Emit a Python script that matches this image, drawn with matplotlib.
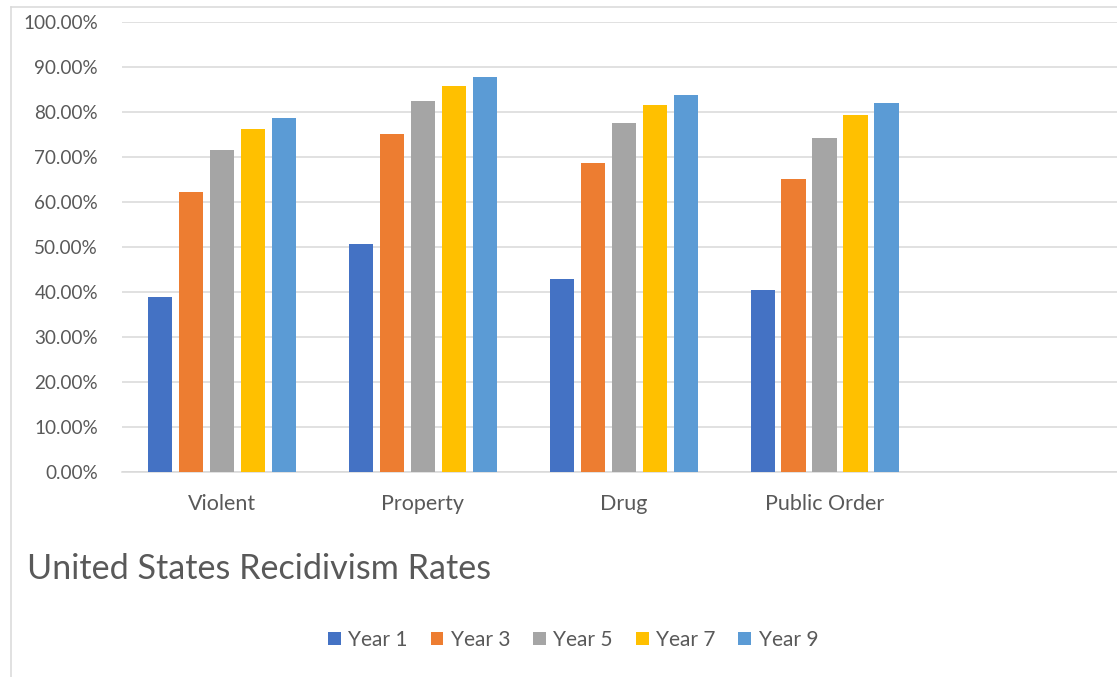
import matplotlib
matplotlib.use("Agg")
import matplotlib.pyplot as plt
import numpy as np
from matplotlib.lines import Line2D
from matplotlib.patches import Patch

categories = ["Violent", "Property", "Drug", "Public Order"]
series_names = ["Year 1", "Year 3", "Year 5", "Year 7", "Year 9"]
year1 = [0.389, 0.507, 0.428, 0.404]
year3 = [0.621, 0.750, 0.686, 0.650]
year5 = [0.715, 0.824, 0.775, 0.742]
year7 = [0.761, 0.858, 0.815, 0.793]
year9 = [0.787, 0.878, 0.838, 0.819]
y_ticks = [0.0, 0.1, 0.2, 0.3, 0.4, 0.5, 0.6, 0.7, 0.8, 0.9, 1.0]
title = "United States Recidivism Rates"

colors = ["#4472C4", "#ED7D31", "#A5A5A5", "#FFC000", "#5B9BD5"]
text_color = "#595959"
grid_color = "#D9D9D9"

plt.rcParams['font.family'] = ['Lato', 'DejaVu Sans']

W, H = 1117, 677
fig = plt.figure(figsize=(W / 100, H / 100), dpi=100)

left_px, right_px, top_px, bottom_px = 121.7, 1126.0, 22.0, 471.7
ax = fig.add_axes([left_px / W, 1 - bottom_px / H, (right_px - left_px) / W, (bottom_px - top_px) / H])

series = [year1, year3, year5, year7, year9]
x = np.arange(len(categories))
pitch = 0.1542
width = 0.122
for i, (vals, c) in enumerate(zip(series, colors)):
    ax.bar(x + (i - 2) * pitch, vals, width=width, color=c, zorder=3, label=series_names[i])

ax.set_xlim(-0.5, 4.5)
ax.set_ylim(0, 1.0)
ax.set_yticks(y_ticks)
ax.set_yticklabels([f"{v*100:.2f}%" for v in y_ticks])
ax.set_xticks(x)
ax.set_xticklabels(categories)
ax.yaxis.grid(True, color=grid_color, linewidth=1.1, zorder=0)
ax.set_axisbelow(True)
for s in ["top", "right", "left"]:
    ax.spines[s].set_visible(False)
ax.spines["bottom"].set_color(grid_color)
ax.spines["bottom"].set_linewidth(1.1)
ax.tick_params(axis="both", length=0, colors=text_color)
ax.tick_params(axis="y", pad=17, labelsize=13.6)
ax.tick_params(axis="x", pad=16, labelsize=15.5)
ax.patch.set_alpha(0)

# chart frame
fig.add_artist(Line2D([11 / W, 11 / W], [0, 1 - 7 / H], color=grid_color, linewidth=1.1, transform=fig.transFigure))
fig.add_artist(Line2D([11 / W, 1], [1 - 7 / H, 1 - 7 / H], color=grid_color, linewidth=1.1, transform=fig.transFigure))

fig.text(27 / W, 1 - 569 / H, title, ha="left", va="center", fontsize=24.6, color=text_color)

handles = [Patch(facecolor=c, edgecolor="none") for c in colors]
fig.legend(handles, series_names, loc="center", bbox_to_anchor=(573 / W, 1 - 640 / H), ncol=5,
           frameon=False, fontsize=15, labelcolor=text_color, handlelength=0.62, handleheight=0.62,
           handletextpad=0.35, columnspacing=1.1)

fig.savefig("out.png", dpi=100)
